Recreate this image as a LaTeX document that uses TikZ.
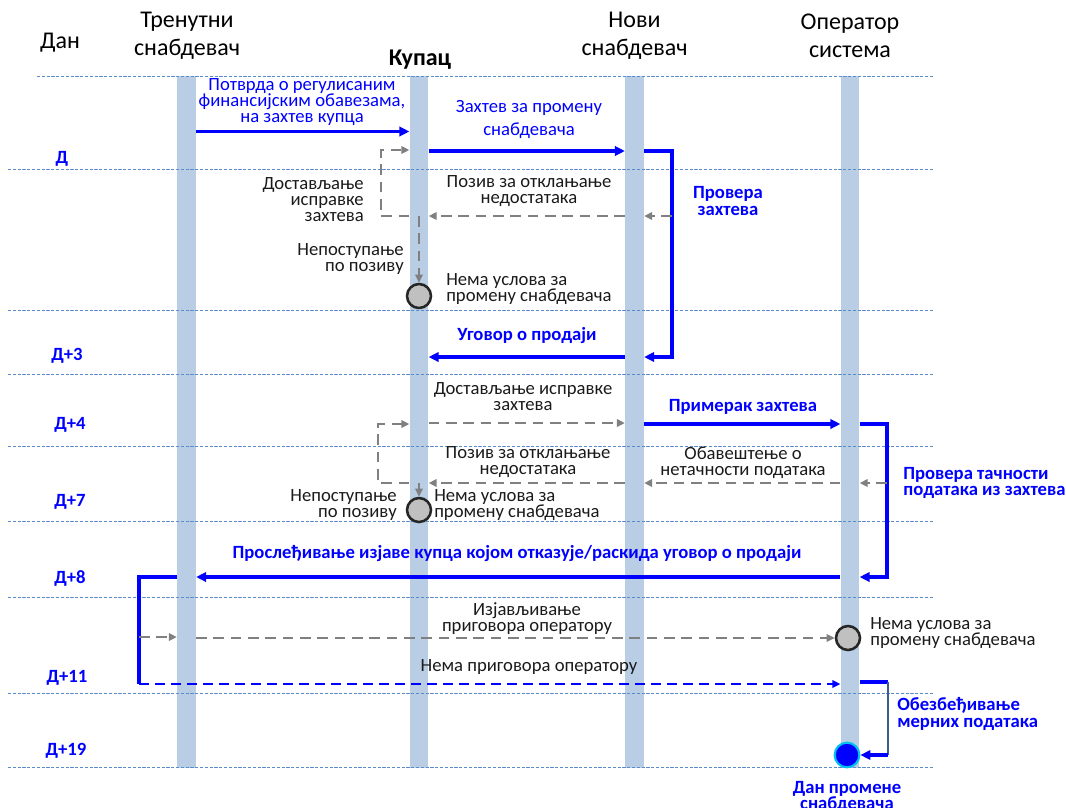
\documentclass[tikz,border=0pt]{standalone}
\usepackage{fontspec}
\setmainfont{Carlito}
\usetikzlibrary{arrows.meta}
\definecolor{barc}{HTML}{B9CDE5}
\definecolor{gridc}{HTML}{5B8BC9}
\definecolor{ablue}{HTML}{0000FF}
\definecolor{agray}{HTML}{808080}
\definecolor{dkblue}{HTML}{3A5F8F}
\definecolor{ringc}{HTML}{00C0F0}
\definecolor{circgray}{HTML}{C0C0C0}
\definecolor{txt}{HTML}{1A1A1A}
\tikzset{
  gridline/.style={gridc, line width=0.75pt, dash pattern=on 2.4pt off 1.2pt},
  lifebar/.style={fill=barc, draw=none, rectangle, minimum width=14pt, minimum height=519pt, inner sep=0pt},
  title/.style={font=\fontsize{18}{21}\selectfont, align=center, inner sep=0pt, text=black},
  daylbl/.style={font=\fontsize{14}{16}\bfseries\selectfont, text=ablue, inner sep=0pt},
  lbl/.style={font=\fontsize{14}{12}\selectfont, align=center, inner sep=0pt, text=txt},
  blbl/.style={lbl, text=ablue},
  bblbl/.style={lbl, text=ablue, font=\fontsize{14}{12.4}\bfseries\selectfont},
  strong/.style={ablue, line width=2.3pt, -{Triangle[length=7.5pt,width=7pt]}},
  strongline/.style={ablue, line width=2.3pt},
  gdash/.style={agray, line width=1.9pt, dash pattern=on 8pt off 5pt, -{Triangle[length=6pt,width=5.5pt]}},
  bdash/.style={ablue, line width=1.5pt, dash pattern=on 7.5pt off 4.5pt, -{Triangle[length=6pt,width=5.5pt]}},
  circ/.style={circle, fill=circgray, draw=black!85, line width=1.9pt, minimum size=18pt, inner sep=0pt},
  endcirc/.style={circle, fill=ablue, draw=ringc, line width=1.6pt, minimum size=18.5pt, inner sep=0pt}
}
\begin{document}
\begin{tikzpicture}[x=0.75pt,y=-0.75pt]
\useasboundingbox (0,0) rectangle (1066,807);
% lifelines
\node[lifebar] (barT) at (186.5,422) {};
\node[lifebar] (barK) at (419,422) {};
\node[lifebar] (barN) at (634.5,422) {};
\node[lifebar] (barO) at (850,422) {};
% grid lines
\draw[gridline] (37,76.5) -- (933,76.5);
\foreach \yy in {169.5,310.5,374.5,446,521.5,597,693,767.5}
  \draw[gridline] (8,\yy) -- (933,\yy);
% headers
\node[title] (hDan) at (60,43) {Дан};
\node[title] (hT) at (187,36) {Тренутни\\снабдевач};
\node[title, font=\fontsize{18}{21}\bfseries\selectfont] (hK) at (420,60) {Купац};
\node[title] (hN) at (634.5,36) {Нови\\снабдевач};
\node[title] (hO) at (850,36) {Оператор\\система};
% day labels
\node[daylbl] (d0) at (62,159) {Д};
\node[daylbl] (d3) at (67,356) {Д+3};
\node[daylbl] (d4) at (70,425) {Д+4};
\node[daylbl] (d7) at (70,502) {Д+7};
\node[daylbl] (d8) at (70,578) {Д+8};
\node[daylbl] (d11) at (67,678) {Д+11};
\node[daylbl] (d19) at (66,751) {Д+19};
% --- Д
\node[blbl] (tPotvrda) at (302,102) {Потврда о регулисаним\\финансијским обавезама,\\на захтев купца};
\draw[strong] (barT.east |- 0,131.5) -- (barK.west |- 0,131.5);
\node[blbl, font=\fontsize{14}{17.3}\selectfont] (tZahtev) at (529,119.5) {Захтев за промену\\снабдевача};
\draw[strong] (barK.east |- 0,151) -- (barN.west |- 0,151);
\coordinate (b1a) at (672,151);
\coordinate (b1b) at (672,357);
\draw[strong] (barN.east |- 0,151) -- (b1a) -- (b1b) -- (barN.east |- 0,357);
\node[bblbl] (tProvera) at (728,201) {Провера\\захтева};
\draw[gdash] (b1a |- 0,216) -- (barN.east |- 0,216);
\draw[gdash] (barN.west |- 0,216) -- (barK.east |- 0,216);
\node[lbl] (tPoziv1) at (529,191.5) {Позив за отклањање\\недостатака};
\coordinate (l1a) at (381,216);
\coordinate (l1b) at (381,150);
\draw[gdash] (barK.west |- 0,216) -- (l1a) -- (l1b) -- (barK.west |- 0,150);
\node[lbl, align=right, anchor=east] (tDost1) at (364,200) {Достављање\\исправке\\захтева};
\node[circ] (c1) at (419,296) {};
\draw[gdash] (c1.north |- 0,216) -- (c1.north);
\node[lbl, align=right, anchor=east] (tNep1) at (404,259) {Непоступање\\по позиву};
\node[lbl, align=left, anchor=west] (tNema1) at (446,289) {Нема услова за\\промену снабдевача};
% --- Д+3
\node[bblbl] (tUgovor) at (527,336) {Уговор о продаји};
\draw[strong] (barN.west |- 0,357) -- (barK.east |- 0,357);
% --- Д+4
\node[lbl] (tDost2) at (523,397) {Достављање исправке\\захтева};
\draw[gdash] (barK.east |- 0,423) -- (barN.west |- 0,423);
\node[bblbl] (tPrimerak) at (743,407) {Примерак захтева};
\draw[strong] (barN.east |- 0,424) -- (barO.west |- 0,424);
\coordinate (b2a) at (887,424);
\coordinate (b2b) at (887,577);
\draw[strong] (barO.east |- 0,424) -- (b2a) -- (b2b) -- (barO.east |- 0,577);
\node[bblbl, align=left, anchor=west] (tProvera2) at (903,483) {Провера тачности\\података из захтева};
% --- Д+7
\node[lbl] (tPoziv2) at (528,462.5) {Позив за отклањање\\недостатака};
\draw[gdash] (barN.west |- 0,483) -- (barK.east |- 0,483);
\node[lbl] (tObav) at (743,463) {Обавештење о\\нетачности података};
\draw[gdash] (barO.west |- 0,483) -- (barN.east |- 0,483);
\draw[gdash] (b2a |- 0,483) -- (barO.east |- 0,483);
\coordinate (l2a) at (378,483);
\coordinate (l2b) at (378,424);
\draw[gdash] (barK.west |- 0,483) -- (l2a) -- (l2b) -- (barK.west |- 0,424);
\node[circ] (c2) at (419,510) {};
\draw[gdash] (c2.north |- 0,483) -- (c2.north);
\node[lbl, align=right, anchor=east] (tNep2) at (397,505) {Непоступање\\по позиву};
\node[lbl, align=left, anchor=west] (tNema2) at (434,505) {Нема услова за\\промену снабдевача};
% --- Д+8
\node[bblbl] (tProsl) at (517,554) {Прослеђивање изјаве купца којом отказује/раскида уговор о продаји};
\draw[strong] (barO.west |- 0,577) -- (barT.east |- 0,577);
\coordinate (b3a) at (139,577);
\coordinate (b3b) at (139,684);
\draw[strongline] (barT.west |- 0,577) -- (b3a) -- (b3b);
% --- Д+11
\node[lbl] (tIzj) at (527,619) {Изјављивање\\приговора оператору};
\node[circ] (c3) at (848,638) {};
\draw[gdash] (b3a |- 0,637) -- (barT.west |- 0,637);
\draw[gdash] (barT.east |- 0,638) -- (c3.west);
\node[lbl, align=left, anchor=west] (tNema3) at (870,633) {Нема услова за\\промену снабдевача};
\node[lbl] (tNemaPrig) at (529,667) {Нема приговора оператору};
\draw[bdash] (b3b) -- (barO.west |- 0,684);
% --- Д+19
\node[endcirc] (c4) at (847,755) {};
\coordinate (b4a) at (888,682);
\coordinate (b4b) at (888,755);
\draw[strongline] (barO.east |- 0,682) -- (b4a);
\draw[dkblue, line width=1.6pt] (b4a) -- (b4b);
\draw[strong] (b4b) -- (c4.east);
\node[bblbl, align=left, anchor=west] (tObezb) at (897,714) {Обезбеђивање\\мерних података};
\node[bblbl] (tDan) at (847,797) {Дан промене\\снабдевача};
\end{tikzpicture}
\end{document}
